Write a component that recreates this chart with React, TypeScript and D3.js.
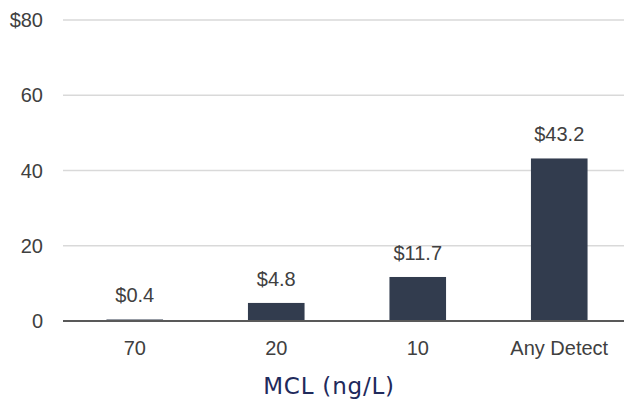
import React from 'react';
import * as d3 from 'd3';

const categories = ['70', '20', '10', 'Any Detect'];
const costs = [0.4, 4.8, 11.7, 43.2];
const valueLabels = ['$0.4', '$4.8', '$11.7', '$43.2'];
const yTicks = [0, 20, 40, 60, 80];
const yTickLabels = ['0', '20', '40', '60', '$80'];

const W = 624;
const H = 403;

export default function App() {
  const x = d3.scaleBand<string>()
    .domain(categories)
    .range([64, 630])
    .paddingInner(0.6)
    .paddingOuter(0.3);

  const y = d3.scaleLinear().domain([0, 80]).range([321, 20]);

  const font = 'Liberation Sans, Arial, sans-serif';

  return (
    <svg width={W} height={H} style={{ position: 'absolute', left: 0, top: 0 }}>
      <rect width={W} height={H} fill="#fff" />
      {yTicks.filter(t => t > 0).map(t => (
        <line key={t} x1={63} x2={W} y1={y(t)} y2={y(t)} stroke="#d9d9d9" strokeWidth={1.5} />
      ))}
      {yTicks.map((t, i) => (
        <text key={t} x={43} y={y(t)} dy="0.35em" textAnchor="end"
              fontFamily={font} fontSize={20} fill="#404040">{yTickLabels[i]}</text>
      ))}
      {categories.map((c, i) => (
        <g key={c}>
          <rect x={x(c)} y={y(costs[i])} width={x.bandwidth()}
                height={y(0) - y(costs[i])} fill="#323c4e" />
          <text x={x(c)! + x.bandwidth() / 2} y={y(costs[i]) - 17} textAnchor="middle"
                fontFamily={font} fontSize={20} fill="#404040">{valueLabels[i]}</text>
          <text x={x(c)! + x.bandwidth() / 2} y={355} textAnchor="middle"
                fontFamily={font} fontSize={20} fill="#404040">{c}</text>
        </g>
      ))}
      <line x1={63} x2={W} y1={y(0)} y2={y(0)} stroke="#595959" strokeWidth={2} />
      <text x={329} y={394} textAnchor="middle" fontFamily="DejaVu Sans, sans-serif"
            fontSize={23} letterSpacing={0.8} fill="#1f2a5c">MCL (ng/L)</text>
    </svg>
  );
}
